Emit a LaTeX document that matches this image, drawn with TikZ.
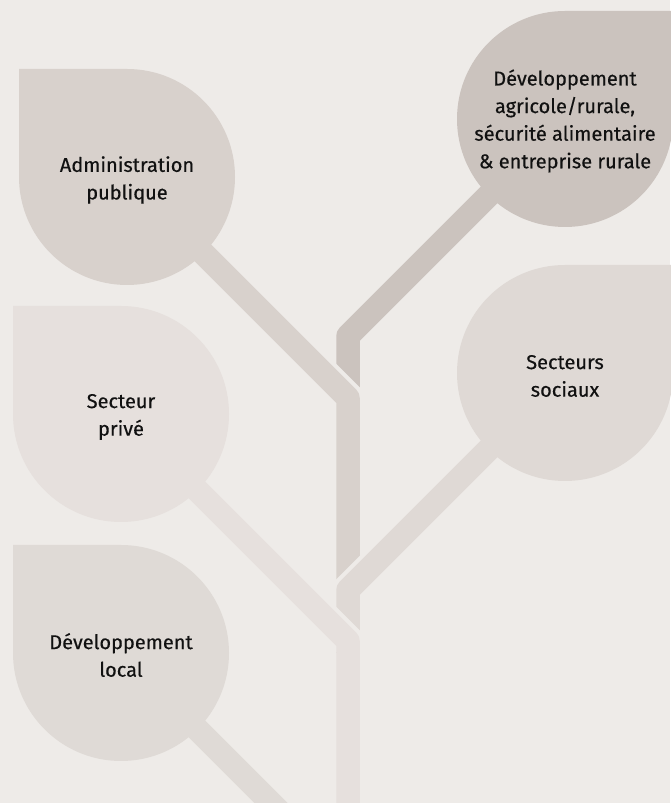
\documentclass[tikz,border=0pt]{standalone}
\usepackage{fontspec}
\IfFontExistsTF{FiraSans-Medium.otf}{\setmainfont{FiraSans-Medium.otf}}{\setmainfont{Fira Sans}[FakeBold=0.4]}
\definecolor{bgc}{HTML}{EEEBE8}
\definecolor{adminc}{HTML}{D8D1CC}
\definecolor{agric}{HTML}{CBC3BE}
\definecolor{privec}{HTML}{E6E0DD}
\definecolor{socc}{HTML}{DFD9D5}
\definecolor{localc}{HTML}{DFDAD6}
\definecolor{txt}{HTML}{111111}
\begin{document}
\begin{tikzpicture}[x=1pt,y=1pt,
  stemline/.style={line width=23.5pt, line join=round, line cap=butt},
  gapline/.style={line width=31.5pt, line cap=butt, draw=bgc},
  leaftext/.style={align=center, font=\fontsize{20}{27.6}\selectfont, text=txt, inner sep=0pt}]
\useasboundingbox (0,0) rectangle (670,803);
\fill[bgc] (0,0) rectangle (670,803);
% leaf centres
\coordinate (admin) at (127,626);
\coordinate (agri) at (565,684);
\coordinate (prive) at (121,389);
\coordinate (soc) at (565,430);
\coordinate (local) at (121,150);
% joints on the trunk
\coordinate (agriJ) at (348,467);
\coordinate (agriE) at (348,400);
\coordinate (adminJ) at (348,405);
\coordinate (adminX) at (368,385);
\coordinate (adminE) at (348,200);
\coordinate (socJ) at (348,213);
\coordinate (socX) at (328,193);
\coordinate (socE) at (348,150);
\coordinate (priveJ) at (348,162);
\coordinate (priveX) at (368,142);
\coordinate (priveE) at (348,-20);
\coordinate (localE) at (291,-20);
% stems
\draw[stemline, agric] (agri) -- (agriJ) -- (agriE);
\draw[gapline] (admin) -- (adminX);
\draw[stemline, adminc] (admin) -- (adminJ) -- (adminE);
\draw[gapline] (soc) -- (socX);
\draw[stemline, socc] (soc) -- (socJ) -- (socE);
\draw[gapline] (prive) -- (priveX);
\draw[stemline, privec] (prive) -- (priveJ) -- (priveE);
\draw[stemline, localc] (local) -- (localE);
% leaves
\fill[adminc] (admin) ++(-108,108) -- ++(108,0) arc[start angle=90,end angle=-180,radius=108] -- cycle;
\fill[privec] (prive) ++(-108,108) -- ++(108,0) arc[start angle=90,end angle=-180,radius=108] -- cycle;
\fill[localc] (local) ++(-108,108) -- ++(108,0) arc[start angle=90,end angle=-180,radius=108] -- cycle;
\fill[agric] (agri) ++(108,108) -- ++(-108,0) arc[start angle=90,end angle=360,radius=108] -- cycle;
\fill[socc] (soc) ++(108,108) -- ++(-108,0) arc[start angle=90,end angle=360,radius=108] -- cycle;
% texts
\node[leaftext] (tadmin) at ([yshift=-3pt]admin) {Administration\\publique};
\node[leaftext] (tagri) at ([yshift=-2pt]agri) {Développement\\agricole/rurale,\\sécurité alimentaire\\\& entreprise rurale};
\node[leaftext] (tprive) at ([yshift=-3pt]prive) {Secteur\\privé};
\node[leaftext] (tsoc) at ([yshift=-3pt]soc) {Secteurs\\sociaux};
\node[leaftext] (tlocal) at ([yshift=-2pt]local) {Développement\\local};
\end{tikzpicture}
\end{document}
